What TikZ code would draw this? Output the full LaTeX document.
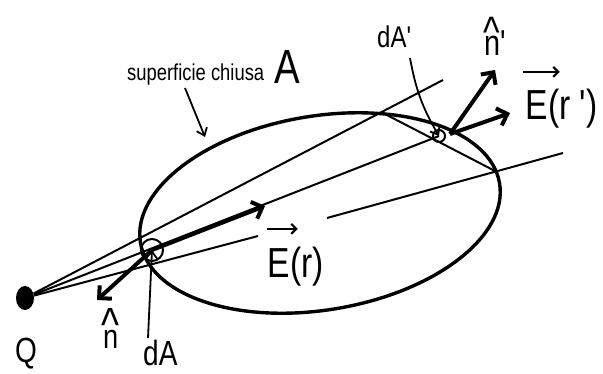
\documentclass[tikz,border=0pt]{standalone}
\usepackage{fontspec}
\newfontfamily\lblfont[FakeStretch=0.8]{Liberation Sans}
\newcommand{\lblfs}[1]{\lblfont\fontsize{#1}{#1}\selectfont}
\newcommand{\bighat}[3]{\ooalign{\hidewidth\raisebox{#1}{\fontsize{#2}{#2}\selectfont\textasciicircum}\hidewidth\cr #3}}
\usetikzlibrary{arrows.meta, positioning, calc, shapes.geometric}

\begin{document}
\begin{tikzpicture}[
    x=1pt, y=-1pt,
    ray/.style={line width=2pt},
    surf/.style={line width=3.4pt},
    vecarr/.style={line width=4pt, -{Straight Barb[length=9pt, width=18pt]}},
    ptr/.style={line width=1.8pt, -{Straight Barb[length=7pt, width=11pt]}},
    overarr/.style={line width=2.2pt, -{Straight Barb[length=5pt, width=10pt]}},
    lbl/.style={inner sep=0pt, anchor=base west}
  ]
    \useasboundingbox (0,0) rectangle (603,373);

    % charge and surface
    \node[ellipse, fill, minimum width=18pt, minimum height=24pt, inner sep=0pt] (Q) at (25,298) {};
    \draw[surf, rotate around={9.4:(320,213)}] (320,213) ellipse [x radius=182, y radius=97];

    \coordinate (dA)    at (152,250);
    \coordinate (dAp)   at (439,136);
    \coordinate (dAfoot) at (450,134);
    \coordinate (topHit) at (383,113);
    \coordinate (rightHit) at (497,172);

    % rays from Q
    \draw[ray] (Q) -- (443,80) coordinate (rayOneEnd);
    \draw[ray] (Q) -- (dAp);
    \draw[ray] (Q) -- (258,236) coordinate (rayThreeStop);
    \draw[ray] (327,218) coordinate (rayThreeGo) -- (563,153);
    \draw[ray] (topHit) -- (rightHit);

    % surface elements
    \draw[ray] (dA) circle[radius=11];
    \draw[ray] (dAp) circle[radius=6];

    % vectors
    \draw[vecarr] (dA) -- (265,206) coordinate (Etip);
    \draw[vecarr] (dA) -- (97,300) coordinate (ntip);
    \draw[vecarr] (dAfoot) -- (495,70) coordinate (nptip);
    \draw[vecarr] (dAfoot) -- (510,113) coordinate (Eptip);

    % labels
    \node[lbl, font=\lblfs{23}] (surfLbl) at (127,80) {superficie chiusa};
    \node[lbl, font=\lblfs{48}] (ALbl) at (274,83) {A};
    \node[lbl, font=\lblfs{35}] (QLbl) at (15,362) {Q};
    \node[lbl, font=\lblfs{34}] (nLbl) at (103,348) {\bighat{7pt}{48}{n}};
    \node[lbl, font=\lblfs{35}] (dALbl) at (143,365) {dA};
    \node[lbl, font=\lblfs{30}] (dApLbl) at (377,47) {dA'};
    \node[lbl, font=\lblfs{36}] (npLbl) at (484,55) {\bighat{8pt}{44}{n}'};
    \node[lbl, font=\lblfs{42}] (ErE) at (267,277) {E};
    \node[lbl, font=\lblfs{42}] (ErRest) at (ErE.base east) {(r)};
    \node[lbl, font=\lblfs{42}] (EpE) at (525,119) {E};
    \node[lbl, font=\lblfs{42}] (EpRest) at (EpE.base east) {(r ')};

    \draw[overarr] ($(ErE.north west)+(0,-19)$) -- ($(ErE.north east)+(8,-19)$);
    \draw[overarr] ($(EpE.north west)+(-2,-18)$) -- ($(EpE.north east)+(12,-18)$);

    % pointers
    \draw[ptr] (185,88) coordinate (surfTail) -- (205,137);
    \draw[ptr] (148,338) coordinate (dATail) -- (dA);
    \draw[ptr] (410,58) coordinate (dApTail) to[bend right=10] (dAp);
\end{tikzpicture}
\end{document}
